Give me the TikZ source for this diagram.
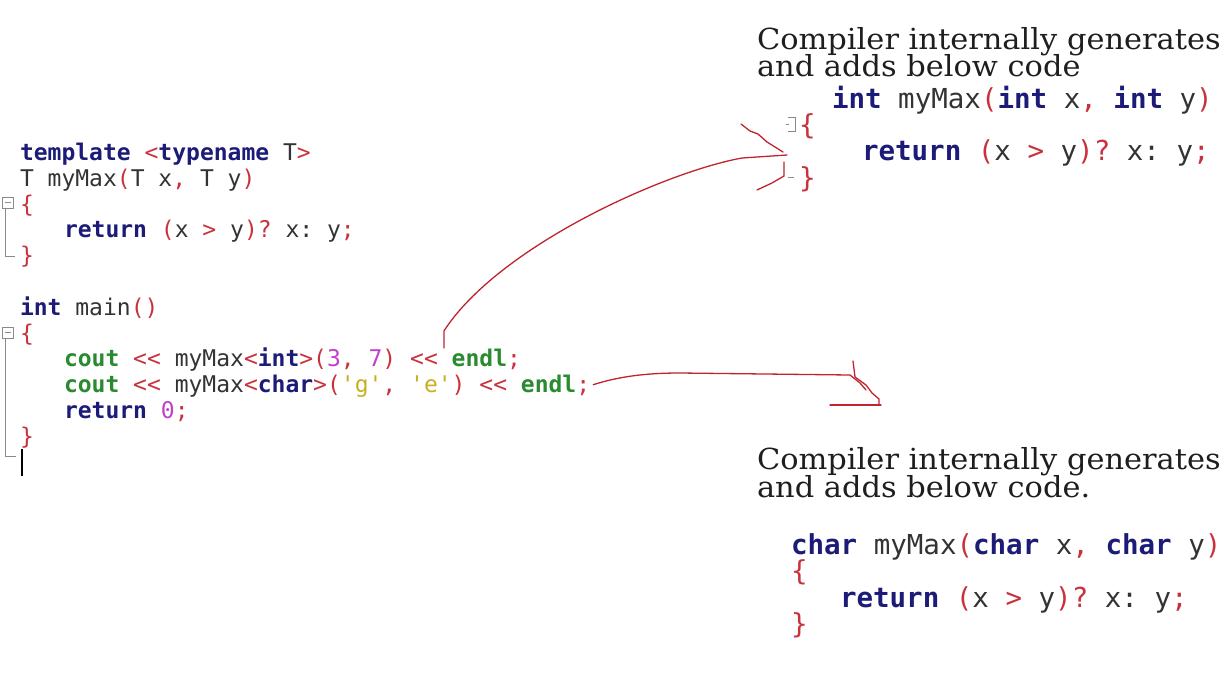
\documentclass[tikz,border=0pt]{standalone}
\usepackage{fontspec}
\setmonofont{DejaVu Sans Mono}
\newfontfamily\notefont{DejaVu Serif}[FakeStretch=1.05]
\usetikzlibrary{calc}

% syntax colours of the code listings
\definecolor{kwc}{HTML}{1C1C78}
\definecolor{opc}{HTML}{C8323C}
\definecolor{idc}{HTML}{333333}
\definecolor{ioc}{HTML}{2A8A30}
\definecolor{numc}{HTML}{C040C8}
\definecolor{chrc}{HTML}{C6B020}
\definecolor{gutc}{HTML}{8A8A8A}
\definecolor{inkc}{HTML}{C0242C}
\definecolor{txtc}{HTML}{1E1E1E}

\newcommand\ckw[1]{{\bfseries\color{kwc}#1}}
\newcommand\cop[1]{{\color{opc}#1}}
\newcommand\cio[1]{{\bfseries\color{ioc}#1}}
\newcommand\cnum[1]{{\color{numc}#1}}
\newcommand\cchr[1]{{\color{chrc}#1}}

\begin{document}
\begin{tikzpicture}[x=1pt,y=-1pt,
  code/.style={anchor=base west, inner sep=0pt, outer sep=0pt,
    font=\ttfamily\fontsize{23}{26}\selectfont, text=idc},
  bigcode/.style={code, font=\ttfamily\fontsize{27.5}{30}\selectfont},
  note/.style={anchor=base west, inner sep=0pt, outer sep=0pt,
    font=\notefont\fontsize{29}{30}\selectfont, text=txtc},
  ink/.style={draw=inkc, line width=1.3pt, line cap=round, line join=round},
  gutter/.style={draw=gutc, line width=1pt}]
\useasboundingbox (0,0) rectangle (1227,689);

% ---------------- template and main ----------------
\node[code] (t1) at (20,160.5) {\ckw{template} \cop{<}\ckw{typename} T\cop{>}};
\node[code] (t2) at (20,186.3) {T myMax\cop{(}T x\cop{,} T y\cop{)}};
\node[code] (t3) at (20,212.1) {\cop{\{}};
\node[code] (t4) at (64,237.9) {\ckw{return} \cop{(}x \cop{>} y\cop{)}\cop{?} x: y\cop{;}};
\node[code] (t5) at (20,263.7) {\cop{\}}};

\node[code] (m1) at (20,315.3) {\ckw{int} main\cop{()}};
\node[code] (m2) at (20,341.1) {\cop{\{}};
\node[code] (c1) at (64,366.9) {\cio{cout} \cop{<<} myMax\cop{<}\ckw{int}\cop{>(}\cnum{3}\cop{,} \cnum{7}\cop{)} \cop{<<} \cio{endl}\cop{;}};
\node[code] (c2) at (64,392.7) {\cio{cout} \cop{<<} myMax\cop{<}\ckw{char}\cop{>(}\cchr{'g'}\cop{,} \cchr{'e'}\cop{)} \cop{<<} \cio{endl}\cop{;}};
\node[code] (m5) at (64,418.5) {\ckw{return} \cnum{0}\cop{;}};
\node[code] (m6) at (20,444.3) {\cop{\}}};

% fold markers and caret
\draw[gutter] (2,197) rectangle (13,208);
\draw[gutter] (4.5,202.5) -- (10.5,202.5);
\draw[gutter] (5,208) -- (5,256) -- (15,256);
\draw[gutter] (2,327) rectangle (13,338);
\draw[gutter] (4.5,332.5) -- (10.5,332.5);
\draw[gutter] (5,338) -- (5,456) -- (16,456);
\draw[black, line width=1.5pt] (22,449) -- (22,476);

% ---------------- int instance ----------------
\node[note] (n1a) at (757,49) {Compiler internally generates};
\node[note] (n1b) at (757,76) {and adds below code};
\node[bigcode] (i1) at (832,108.4) {\ckw{int} myMax\cop{(}\ckw{int} x\cop{,} \ckw{int} y\cop{)}};
\node[bigcode] (i2) at (799,134.4) {\cop{\{}};
\node[bigcode] (i3) at (862,160.4) {\ckw{return} \cop{(}x \cop{>} y\cop{)}\cop{?} x: y\cop{;}};
\node[bigcode] (i4) at (799,187.4) {\cop{\}}};
\draw[gutter] (788,117) -- (795,117) -- (795,131) -- (788,131);
\draw[gutter] (786,124) -- (789,124);
\draw[gutter] (788,177) -- (794,177);

% ---------------- char instance ----------------
\node[note] (n2a) at (757,469) {Compiler internally generates};
\node[note] (n2b) at (757,497) {and adds below code.};
\node[bigcode] (h1) at (791,554.4) {\ckw{char} myMax\cop{(}\ckw{char} x\cop{,} \ckw{char} y\cop{)}};
\node[bigcode] (h2) at (791,580.4) {\cop{\{}};
\node[bigcode] (h3) at (840,607.4) {\ckw{return} \cop{(}x \cop{>} y\cop{)}\cop{?} x: y\cop{;}};
\node[bigcode] (h4) at (791,633.4) {\cop{\}}};

% ---------------- hand-drawn arrows ----------------
\coordinate (a1s) at ($(c1.base west)+(380,-19)$);
\coordinate (a1k) at ($(c1.base west)+(380,-36)$);
\coordinate (a1h) at (742,158);
\coordinate (a1e) at (787,155);
\draw[ink] (a1s) -- (a1k) .. controls ($(a1k)+(55,-85)$) and (665,172) .. (a1h) -- (a1e);
\draw[ink] (741,124) -- (750,131) -- (758,134) -- (767,142) -- (783,152);
\draw[ink] (784,162) -- (784,176) -- (772,183) -- (757,190);

\coordinate (a2s) at ($(c2.base east)+(3,-8)$);
\coordinate (a2h) at (680,373);
\coordinate (a2e) at (850,375);
\draw[ink] (a2s) .. controls ($(a2s)+(25,-8)$) and (645,373) .. (a2h) -- (a2e);
\draw[ink] (a2e) -- (860,383) -- (866,390);
\draw[ink] (853,361) -- (855,377) -- (866,385) -- (872,393) -- (879,399) -- (879,405);
\draw[ink] (830,405) -- (881,405);
\end{tikzpicture}
\end{document}
